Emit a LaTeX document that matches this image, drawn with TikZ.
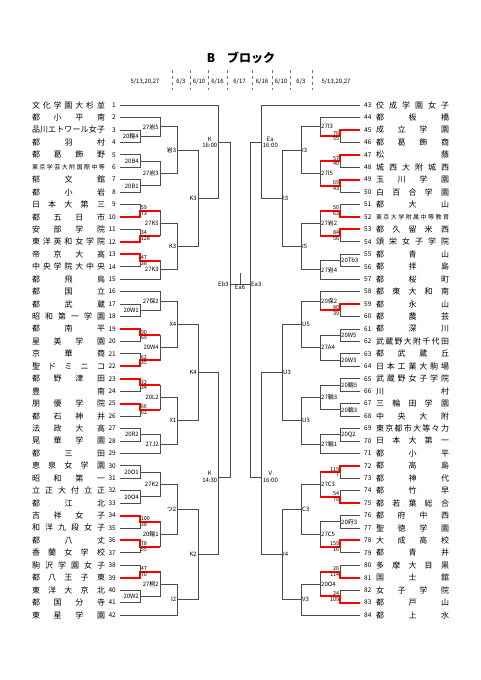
\documentclass[tikz,border=0pt]{standalone}
\usepackage{fontspec}
\setmainfont{Noto Sans CJK JP}
\usetikzlibrary{calc}

\tikzset{
  bline/.style={draw=black!70,line width=0.75pt},
  wline/.style={draw=red,line width=2pt},
  sepline/.style={draw=black!55,line width=0.5pt,dashed},
  rlab/.style={font=\fontsize{6}{6.5}\selectfont,inner sep=1pt},
  score/.style={font=\fontsize{5.5}{6}\selectfont,inner sep=0.6pt},
  team/.style={font=\fontsize{8}{9}\selectfont,inner sep=0pt},
  num/.style={font=\fontsize{6.5}{7}\selectfont,inner sep=0pt},
  date/.style={font=\fontsize{6}{7}\selectfont,inner sep=0pt},
}

% names spread over the column
\def\smallname{\fontsize{6}{7}\selectfont}
\def\spreadfirst#1{\ifx\smallname#1\smallname\expandafter\spreadfirst\else#1\expandafter\spreadrest\fi}
\def\spreadrest#1{\ifx\relax#1\else\hfill#1\expandafter\spreadrest\fi}
\newcommand\spreadname[1]{\expandafter\spreadfirst#1\relax}

% one match: two entries, column, new point, label (left / right side)
\newcommand\mL[5]{%
  \draw[bline] (#1) -- (#1 -| #3) -- (#2 -| #3) -- (#2);
  \coordinate (#4) at ($(#1 -| #3)!0.5!(#2 -| #3)$);
  \if\relax\detokenize{#5}\relax\else\node[rlab,anchor=east] (#4t) at (#4) {#5};\fi}
\newcommand\mR[5]{%
  \draw[bline] (#1) -- (#1 -| #3) -- (#2 -| #3) -- (#2);
  \coordinate (#4) at ($(#1 -| #3)!0.5!(#2 -| #3)$);
  \if\relax\detokenize{#5}\relax\else\node[rlab,anchor=west] (#4t) at (#4) {#5};\fi}
% winner path and scores
\newcommand\win[3]{\draw[wline] (#1) -- (#1 -| #2) -- (#2) -- (#2 -| #3);}
\newcommand\sL[3]{\node[score,anchor=south west] (#1u) at (#1) {#2};
  \node[score,anchor=north west] (#1d) at (#1) {#3};}
\newcommand\sR[3]{\node[score,anchor=south east] (#1u) at (#1) {#2};
  \node[score,anchor=north east] (#1d) at (#1) {#3};}

\begin{document}
\begin{tikzpicture}[x=1pt,y=-1pt]
\useasboundingbox (0,0) rectangle (481,680);

% title and dates
\node[font=\bfseries\fontsize{12}{14}\selectfont] (title) at (241,58) {B\quad ブロック};
\node[date] (d1) at (145,82) {5/13,20,27};
\node[date] (d2) at (181,82) {6/3};
\node[date] (d3) at (199,82) {6/10};
\node[date] (d4) at (217.5,82) {6/16};
\node[date] (d5) at (239.5,82) {6/17};
\node[date] (d6) at (262,82) {6/16};
\node[date] (d7) at (281,82) {6/10};
\node[date] (d8) at (301,82) {6/3};
\node[date] (d9) at (336,82) {5/13,20,27};
\foreach \x in {172,190,208,227,252,272,290,312} \draw[sepline] (\x,70) -- (\x,90);

% columns
\coordinate (a1) at (140,0); \coordinate (a2) at (160,0); \coordinate (a3) at (177.5,0);
\coordinate (a4) at (198,0); \coordinate (a5) at (218.5,0); \coordinate (a6) at (230,0);
\coordinate (b1) at (340,0); \coordinate (b2) at (320,0); \coordinate (b3) at (301,0);
\coordinate (b4) at (282,0); \coordinate (b5) at (261.7,0); \coordinate (b6) at (250,0);

% teams, left
\foreach \i/\nm in {1/文化学園大杉並,2/都小平南,3/品川エトワール女子,4/都羽村,5/都葛飾野,
  6/\smallname 東京学芸大附国際中等,7/郁文館,8/都小岩,9/日本大第三,10/都五日市,11/安部学院,
  12/東洋英和女学院,13/帝京大高,14/中央学院大中央,15/都飛鳥,16/都国立,17/都武蔵,
  18/昭和第一学園,19/都南平,20/星美学園,21/京華商,22/聖ドミニコ,23/都野津田,24/豊南,
  25/朋優学院,26/都石神井,27/法政大高,28/晃華学園,29/都三田,30/恵泉女学園,31/昭和第一,
  32/立正大付立正,33/都江北,34/吉祥女子,35/和洋九段女子,36/都八丈,37/香蘭女学校,
  38/駒沢学園女子,39/都八王子東,40/東洋大京北,41/都国分寺,42/東星学園}{
  \pgfmathsetmacro\yy{105+(\i-1)*12.44}
  \coordinate (l\i) at (120,\yy);
  \node[num,anchor=east] (nl\i) at (116,\yy) {\i};
  \node[team] (tl\i) at (68.5,\yy) {\makebox[73pt]{\spreadname{\nm}}};
}
% teams, right
\foreach \i/\nm in {43/佼成学園女子,44/都板橋,45/成立学園,46/都葛飾商,47/松蔭,48/城西大附城西,
  49/玉川学園,50/白百合学園,51/都大山,52/\smallname 東京大学附属中等教育,53/都久留米西,
  54/頌栄女子学院,55/都青山,56/都拝島,57/都桜町,58/都東大和南,59/都永山,60/都農芸,
  61/都深川,62/武蔵野大附千代田,63/都武蔵丘,64/日本工業大駒場,65/武蔵野女子学院,66/川村,
  67/三輪田学園,68/中央大附,69/東京都市大等々力,70/日本大第一,71/都小平,72/都高島,
  73/都神代,74/都竹早,75/都若葉総合,76/都府中西,77/聖徳学園,78/大成高校,79/都青井,
  80/多摩大目黒,81/国士舘,82/女子学院,83/都戸山,84/都上水}{
  \pgfmathsetmacro\yy{105+(\i-43)*12.44}
  \coordinate (r\i) at (360,\yy);
  \node[num,anchor=west] (nr\i) at (364,\yy) {\i};
  \node[team] (tr\i) at (412.5,\yy) {\makebox[73pt]{\spreadname{\nm}}};
}

% left bracket
\mL{l3}{l4}{a1}{p3}{20輪4}
\mL{l2}{p3}{a2}{q2}{27岩5}
\mL{l5}{l6}{a1}{p5}{20B4}
\mL{l7}{l8}{a1}{p7}{20B1}
\mL{p5}{p7}{a2}{q5}{27岩3}
\mL{q2}{q5}{a3}{s1}{岩3}
\mL{l9}{l10}{a1}{p9}{}
\mL{l11}{l12}{a1}{p11}{}
\mL{p9}{p11}{a2}{q9}{27K5}
\mL{l13}{l14}{a1}{p13}{}
\mL{p13}{l15}{a2}{q13}{27K3}
\mL{q9}{q13}{a3}{s2}{K3}
\mL{s1}{s2}{a4}{u1}{K3}
\mL{l17}{l18}{a1}{p17}{20W1}
\mL{l16}{p17}{a2}{q16}{27保2}
\mL{l19}{l20}{a1}{p19}{}
\mL{l21}{l22}{a1}{p21}{}
\mL{p19}{p21}{a2}{q19}{20W4}
\mL{q16}{q19}{a3}{s3}{X4}
\mL{l23}{l24}{a1}{p23}{}
\mL{l25}{l26}{a1}{p25}{}
\mL{p23}{p25}{a2}{q23}{20L2}
\mL{l27}{l28}{a1}{p27}{20R2}
\mL{p27}{l29}{a2}{q27}{27J2}
\mL{q23}{q27}{a3}{s4}{X1}
\mL{s3}{s4}{a4}{u2}{K4}
\mL{l30}{l31}{a1}{p30}{20O1}
\mL{l32}{l33}{a1}{p32}{20O4}
\mL{p30}{p32}{a2}{q30}{27K2}
\mL{l34}{l35}{a1}{p34}{}
\mL{l36}{l37}{a1}{p36}{}
\mL{p34}{p36}{a2}{q34}{20輪1}
\mL{q30}{q34}{a3}{s5}{つ2}
\mL{l38}{l39}{a1}{p38}{}
\mL{l40}{l41}{a1}{p40}{20W2}
\mL{p38}{p40}{a2}{q38}{27桐2}
\mL{q38}{l42}{a3}{s6}{I2}
\mL{s5}{s6}{a4}{u3}{K2}
\draw[bline] (l1) -- (l1 -| a5) -- (u1 -| a5) -- (u1);
\draw[bline] (u2) -- (u2 -| a5) -- (u3 -| a5) -- (u3);
\coordinate (kA) at (218.5,142.5);
\coordinate (kB) at (218.5,477);
\node[rlab,anchor=east,align=center] (kAt) at (kA) {K\\16:00};
\node[rlab,anchor=east,align=center] (kBt) at (kB) {K\\14:30};

% right bracket
\mR{r45}{r46}{b1}{p45}{}
\mR{r44}{p45}{b2}{q44}{27I3}
\mR{r47}{r48}{b1}{p47}{}
\mR{r49}{r50}{b1}{p49}{}
\mR{p47}{p49}{b2}{q47}{27I5}
\mR{q44}{q47}{b3}{s7}{I3}
\mR{r51}{r52}{b1}{p51}{}
\mR{r53}{r54}{b1}{p53}{}
\mR{p51}{p53}{b2}{q51}{27岩2}
\mR{r55}{r56}{b1}{p55}{20Tb3}
\mR{p55}{r57}{b2}{q55}{27岩4}
\mR{q51}{q55}{b3}{s8}{I5}
\mR{s7}{s8}{b4}{u4}{I3}
\mR{r59}{r60}{b1}{p59}{}
\mR{r58}{p59}{b2}{q58}{20保2}
\mR{r61}{r62}{b1}{p61}{20W5}
\mR{r63}{r64}{b1}{p63}{20W3}
\mR{p61}{p63}{b2}{q61}{27A4}
\mR{q58}{q61}{b3}{s9}{U5}
\mR{r65}{r66}{b1}{p65}{20輪5}
\mR{r67}{r68}{b1}{p67}{20輪3}
\mR{p65}{p67}{b2}{q65}{27輪3}
\mR{r69}{r70}{b1}{p69}{20Q2}
\mR{p69}{r71}{b2}{q69}{27輪1}
\mR{q65}{q69}{b3}{s10}{U3}
\mR{s9}{s10}{b4}{u5}{U3}
\mR{r72}{r73}{b1}{p72}{}
\mR{r74}{r75}{b1}{p74}{}
\mR{p72}{p74}{b2}{q72}{27C3}
\mR{r76}{r77}{b1}{p76}{20府3}
\mR{r78}{r79}{b1}{p78}{}
\mR{p76}{p78}{b2}{q76}{27C5}
\mR{q72}{q76}{b3}{s11}{C3}
\mR{r80}{r81}{b1}{p80}{}
\mR{r82}{r83}{b1}{p82}{}
\mR{p80}{p82}{b2}{q80}{20O4}
\mR{q80}{r84}{b3}{s12}{V3}
\mR{s11}{s12}{b4}{u6}{I4}
\draw[bline] (r43) -- (r43 -| b5) -- (u4 -| b5) -- (u4);
\draw[bline] (u5) -- (u5 -| b5) -- (u6 -| b5) -- (u6);
\coordinate (eA) at (261.7,142.5);
\coordinate (eB) at (261.7,477);
\node[rlab,anchor=west,align=center] (eAt) at (eA) {Ea\\16:00};
\node[rlab,anchor=west,align=center] (eBt) at (eB) {V\\16:00};

% final
\draw[bline] (kA) -- (kA -| a6) -- (kB -| a6) -- (kB);
\draw[bline] (eA) -- (eA -| b6) -- (eB -| b6) -- (eB);
\coordinate (fin) at (240,284);
\coordinate (fintop) at (240,273);
\draw[bline] (fin -| a6) -- (fin -| b6);
\draw[bline] (fin) -- (fintop);
\node[rlab,anchor=east] (ebt) at (fin -| a6) {Eb3};
\node[rlab,anchor=west] (eat) at (fin -| b6) {Ea3};
\node[rlab,anchor=north] (ea6) at (fin) {Ea6};

% winners
\win{l10}{p9}{a2} \sL{p9}{59}{73}
\win{l12}{p11}{a2} \sL{p11}{34}{128}
\win{l13}{p13}{a2} \sL{p13}{47}{38}
\win{l19}{p19}{a2} \sL{p19}{90}{69}
\win{l22}{p21}{a2} \sL{p21}{62}{35}
\win{l23}{p23}{a2} \sL{p23}{32}{34}
\win{l25}{p25}{a2} \sL{p25}{66}{62}
\win{l34}{p34}{a2} \sL{p34}{100}{38}
\win{l36}{p36}{a2} \sL{p36}{78}{55}
\win{l39}{p38}{a2} \sL{p38}{47}{70}
\win{r45}{p45}{b2} \sR{p45}{76}{55}
\win{r47}{p47}{b2} \sR{p47}{57}{40}
\win{r49}{p49}{b2} \sR{p49}{69}{43}
\win{r52}{p51}{b2} \sR{p51}{50}{63}
\win{r53}{p53}{b2} \sR{p53}{84}{56}
\win{r59}{p59}{b2} \sR{p59}{80}{39}
\win{r72}{p72}{b2} \sR{p72}{119}{7}
\win{r75}{p74}{b2} \sR{p74}{54}{70}
\win{r78}{p78}{b2} \sR{p78}{159}{16}
\win{r81}{p80}{b2} \sR{p80}{26}{114}
\win{r83}{p82}{b2} \sR{p82}{24}{109}
\end{tikzpicture}
\end{document}
